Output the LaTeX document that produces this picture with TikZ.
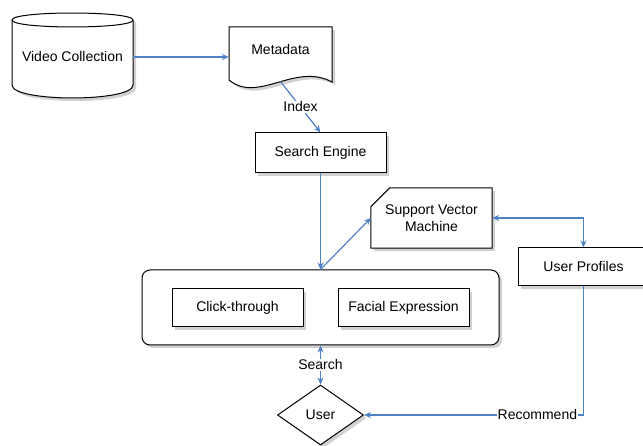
\documentclass[tikz,border=0pt]{standalone}
\usepackage{fontspec}
\setmainfont{Liberation Sans}
\usetikzlibrary{calc}
\usetikzlibrary{positioning,arrows.meta}
\usetikzlibrary{shapes.geometric,shadows}

\definecolor{flowblue}{RGB}{79,129,199}

\begin{document}
\begin{tikzpicture}[x=1pt, y=1pt, >={Stealth[length=7pt,width=6pt]},
    every node/.style={font=\fontsize{14}{17}\selectfont}]
  % outlines with a soft grey shadow
  \tikzset{outline/.style={draw, line width=1pt, fill=white,
      drop shadow={shadow xshift=3pt, shadow yshift=-3pt, fill=black!30, opacity=0.6}}}
  \tikzset{block/.style={outline, minimum width=131pt, minimum height=38pt, inner sep=0pt}}
  \tikzset{flow/.style={draw=flowblue, line width=1.2pt}}
  \tikzset{lbl/.style={fill=white, inner sep=1pt}}

  \useasboundingbox (0,0) rectangle (643,446);

  % storage drum and document
  \node[minimum width=121pt, inner sep=0pt] (vc) at (72.5,389) {};
  \draw[outline] ($(vc)+(-60.5,37)$) .. controls +(0,9.3) and +(0,9.3) .. ($(vc)+(60.5,37)$)
    -- ($(vc)+(60.5,-28)$) .. controls +(0,-17.3) and +(0,-17.3) .. ($(vc)+(-60.5,-28)$) -- cycle;
  \draw[line width=1pt] ($(vc)+(-60.5,37)$) .. controls +(0,-9.3) and +(0,-9.3) .. ($(vc)+(60.5,37)$);
  \node at (vc) {Video Collection};

  \node[minimum width=103pt, inner sep=0pt] (meta) at (280.5,396) {};
  \draw[outline] ($(meta)+(-51.5,23)$) -- ($(meta)+(51.5,23)$) -- ($(meta)+(51.5,-32)$)
    .. controls ($(meta)+(14.5,-12)$) and ($(meta)+(-22.5,-54)$) .. ($(meta)+(-51.5,-30)$) -- cycle;
  \node at (meta) {Metadata};
  \coordinate (metawave) at ($(meta)+(0,-31.5)$);

  \node[block, minimum height=40pt] (se) at (320.5,293) {Search Engine};

  % feedback panel
  \node[outline, rounded corners=8pt, minimum width=357pt, minimum height=75pt] (panel) at (320.5,138.5) {};
  \node[block] (click) at (237.5,138) {Click-through};
  \node[block, right=34pt of click] (facial) {Facial Expression};

  % classifier card with cut corner
  \node[minimum width=121pt, minimum height=60pt, inner sep=0pt] (svm) at (431.5,228) {};
  \draw[outline] ($(svm.north west)+(19,0)$) -- (svm.north east) -- (svm.south east)
    -- (svm.south west) -- ($(svm.north west)+(0,-19)$) -- cycle;
  \node[align=center] at (svm) {Support Vector\\Machine};

  \node[block] (up) at (583.5,179) {User Profiles};
  \node[outline, diamond, aspect=1.43, minimum width=86pt, minimum height=60pt, inner sep=0pt,
    below=39pt of panel] (user) {User};

  % connectors
  \draw[flow, ->] (vc.east) -- (vc.east -| meta.west);
  \draw[flow, ->] (metawave) -- node[lbl] {Index} (se.north);
  \draw[flow, ->] (se.south) -- (panel.north);
  \draw[flow, ->] (panel.north) -- (svm.west);
  \draw[flow, <->] (svm.east) -| (up.north);
  \draw[flow, <->] (panel.south) -- node[lbl] {Search} (user.north);
  \draw[flow, ->] (up.south) |- node[lbl, pos=0.605] {Recommend} (user.east);
\end{tikzpicture}
\end{document}
